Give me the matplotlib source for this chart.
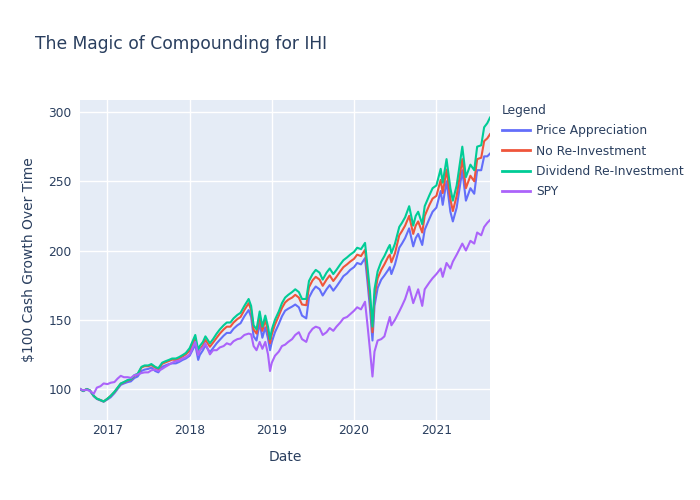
import matplotlib
matplotlib.use("Agg")
import matplotlib.pyplot as plt
import matplotlib.dates as mdates
import pandas as pd

dates = [
    "2016-09-01", "2016-09-15", "2016-10-01", "2016-10-15", "2016-11-01", "2016-11-15",
    "2016-12-01", "2016-12-15", "2017-01-01", "2017-01-15", "2017-02-01", "2017-02-15",
    "2017-03-01", "2017-03-15", "2017-04-01", "2017-04-15", "2017-05-01", "2017-05-15",
    "2017-06-01", "2017-06-15", "2017-07-01", "2017-07-15", "2017-08-01", "2017-08-15",
    "2017-09-01", "2017-09-15", "2017-10-01", "2017-10-15", "2017-11-01", "2017-11-15",
    "2017-12-01", "2017-12-15", "2018-01-01", "2018-01-26", "2018-02-08", "2018-02-15",
    "2018-03-01", "2018-03-12", "2018-04-01", "2018-04-15", "2018-05-01", "2018-05-15",
    "2018-06-01", "2018-06-15", "2018-07-01", "2018-07-15", "2018-08-01", "2018-08-15",
    "2018-09-01", "2018-09-20", "2018-10-01", "2018-10-12", "2018-10-25", "2018-11-08",
    "2018-11-20", "2018-12-03", "2018-12-15", "2018-12-24", "2019-01-01", "2019-01-15",
    "2019-02-01", "2019-02-15", "2019-03-01", "2019-03-15", "2019-04-01", "2019-04-15",
    "2019-05-01", "2019-05-15", "2019-06-03", "2019-06-15", "2019-07-01", "2019-07-15",
    "2019-08-01", "2019-08-15", "2019-09-01", "2019-09-15", "2019-10-01", "2019-10-15",
    "2019-11-01", "2019-11-15", "2019-12-01", "2019-12-15", "2020-01-01", "2020-01-15",
    "2020-02-01", "2020-02-19", "2020-03-01", "2020-03-12", "2020-03-23", "2020-04-01",
    "2020-04-15", "2020-05-01", "2020-05-15", "2020-06-01", "2020-06-08", "2020-06-15",
    "2020-07-01", "2020-07-20", "2020-08-01", "2020-08-15", "2020-09-02", "2020-09-20",
    "2020-10-01", "2020-10-12", "2020-10-30", "2020-11-10", "2020-12-01", "2020-12-15",
    "2021-01-01", "2021-01-20", "2021-01-29", "2021-02-15", "2021-03-04", "2021-03-15",
    "2021-04-01", "2021-04-26", "2021-05-12", "2021-06-01", "2021-06-18", "2021-07-01",
    "2021-07-19", "2021-08-01", "2021-08-15", "2021-08-27",
]

dividend_reinvestment = [
    100, 98.5, 100, 99, 95, 93, 92, 91, 93, 95, 98, 101,
    104, 105, 106.5, 107, 110, 111, 116, 117, 117, 118, 116, 115,
    119, 120, 121, 122, 122, 123, 124.5, 126, 129.5, 139, 128, 131,
    134, 138, 133, 136, 140, 143, 146, 148, 148, 151, 153.5, 155,
    160, 165, 160, 146, 143, 156, 145, 153, 145, 136, 143, 150,
    156, 162, 166, 168, 170, 172, 170, 165, 165, 178, 183, 186,
    184, 179, 184, 187, 183, 186, 190, 193, 195, 197, 199, 202,
    201, 205.5, 188, 170, 145, 172, 185, 192, 196, 202, 204, 198,
    205, 217, 220, 224, 232, 218, 225, 228, 219, 232, 240, 245,
    247, 259, 249, 266, 245, 236, 247, 275, 253, 262, 258, 275,
    276, 289, 292, 296,
]

no_reinvestment = [
    100, 98.5, 100, 99, 95, 93, 92, 91, 93, 95, 97.8, 100.8,
    103.8, 104.8, 106.2, 106.8, 109.6, 110.6, 115.5, 116.5, 116.4, 117.4, 115.3, 114.3,
    118.2, 119.2, 120.2, 121.2, 121, 122, 123.5, 125, 127.5, 136.5, 125, 128.5,
    131.5, 135.5, 130.5, 133.5, 137, 140, 143, 145, 145, 148, 150.5, 152,
    157, 162, 157, 143, 140, 152.5, 142, 150, 141.5, 133, 139.5, 146.5,
    153, 158.5, 162.5, 164.5, 166, 168, 166, 161, 160.5, 173.5, 178.5, 181,
    179, 174.5, 179, 182, 178, 181, 185, 188, 190, 192, 194, 197,
    196, 200.5, 183, 165, 141, 167, 180, 186, 190, 195.5, 197, 191.5,
    198, 211, 214, 218, 225, 212, 218, 221, 213, 225, 233, 237.5,
    239.5, 251, 241.5, 258.5, 237, 228.5, 239.5, 266, 245, 254, 250, 266,
    267, 279, 281, 284,
]

price_appreciation = [
    100, 98.5, 99.8, 98.8, 94.8, 92.8, 91.7, 90.8, 92.5, 94, 97, 100,
    103, 104, 105, 105.5, 108, 109, 113, 114, 114.5, 115.5, 113, 112,
    116, 117, 118, 118.5, 118.5, 119.5, 121, 122, 124, 132, 121, 124.5,
    128, 131.5, 126.5, 129.5, 133, 135.5, 138.5, 140.5, 140.5, 143.5, 146, 147.5,
    152.5, 157, 152, 138, 135, 147.5, 137, 144.5, 136.5, 128, 134, 141,
    147, 152.5, 156.5, 158, 159.5, 161, 159, 153, 151, 166, 171, 174,
    172, 167.5, 172, 175, 171, 174, 178, 181.5, 183.5, 186, 188, 191,
    190, 194.5, 177, 158, 135, 160, 173, 179, 182, 186, 188, 183,
    190, 202, 205, 209, 216, 203, 209, 212, 204, 215, 223, 228,
    231, 243, 233, 250, 228, 221, 231, 258, 236, 245, 241, 258,
    258, 268, 268, 270,
]

spy = [
    100, 99, 99.5, 98.5, 96.5, 101, 102, 104, 103.5, 104.5, 105, 107.5,
    109.5, 108.5, 108.5, 108, 110, 110.5, 111.5, 112, 112, 113.5, 114, 113,
    114.5, 116, 117.5, 119, 120, 120.5, 122, 123, 125, 134, 124.5, 128,
    130, 133, 125, 128, 128, 130, 131, 133, 132, 134.5, 136, 136.5,
    139, 140, 139.5, 131, 128, 134, 129, 134, 125, 113, 119, 124,
    127, 131, 132, 134, 136, 139, 141, 136, 134, 140, 143.5, 145,
    144, 139, 141, 144, 142, 145, 148, 151, 152, 154, 156.5, 159,
    157.5, 163, 146, 128, 109, 127, 135, 136, 138, 148, 152, 146,
    150, 156, 160, 165, 174, 162, 167, 172, 160, 172, 177, 180,
    183, 187, 181, 191, 187, 192, 197, 205, 200, 207, 205, 213,
    211, 217, 220, 222,
]

series_names = ["Price Appreciation", "No Re-Investment", "Dividend Re-Investment", "SPY"]
series_colors = ["#636EFA", "#EF553B", "#00CC96", "#AB63FA"]
x_start, x_end = "2016-09-01", "2021-08-27"
y_min, y_max = 77.6, 308.7

text_color = "#2a3f5f"
plt.rcParams["font.family"] = ["DejaVu Sans"]

x = pd.to_datetime(dates)
fig = plt.figure(figsize=(7, 5), dpi=100)
ax = fig.add_axes([80 / 700, 80 / 500, 410 / 700, 320 / 500])
ax.set_facecolor("#E5ECF6")

for name, vals, col in zip(series_names,
                           [price_appreciation, no_reinvestment, dividend_reinvestment, spy],
                           series_colors):
    ax.plot(x, vals, color=col, lw=1.5, label=name, solid_joinstyle="round")

ax.set_xlim(pd.Timestamp(x_start), pd.Timestamp(x_end))
ax.set_ylim(y_min, y_max)
ax.set_yticks([100, 150, 200, 250, 300])
ax.xaxis.set_major_locator(mdates.YearLocator())
ax.xaxis.set_major_formatter(mdates.DateFormatter("%Y"))
ax.grid(True, color="white", lw=1)
ax.set_axisbelow(True)
for s in ax.spines.values():
    s.set_visible(False)
ax.tick_params(axis="x", length=0, labelsize=8.8, colors=text_color, pad=3)
ax.tick_params(axis="y", length=0, labelsize=8.8, colors=text_color, pad=6)

ax.set_xlabel("Date", fontsize=10, color=text_color, labelpad=9)
ax.set_ylabel(r"\$100 Cash Growth Over Time", fontsize=10, color=text_color, labelpad=9)

fig.text(35 / 700, 1 - 44 / 500, "The Magic of Compounding for IHI", fontsize=12.3,
         color=text_color, va="center", ha="left")

leg = ax.legend(loc="upper left", bbox_to_anchor=(502 / 700, 1 - 104 / 500),
                bbox_transform=fig.transFigure, frameon=False, fontsize=8.8,
                title="Legend", title_fontsize=8.8, alignment="left",
                handlelength=2.3, handletextpad=0.5, labelspacing=0.6,
                borderpad=0, borderaxespad=0)
for t in leg.get_texts():
    t.set_color(text_color)
leg.get_title().set_color(text_color)
for h in leg.legend_handles:
    h.set_linewidth(2)

fig.savefig("out.png", dpi=100)
